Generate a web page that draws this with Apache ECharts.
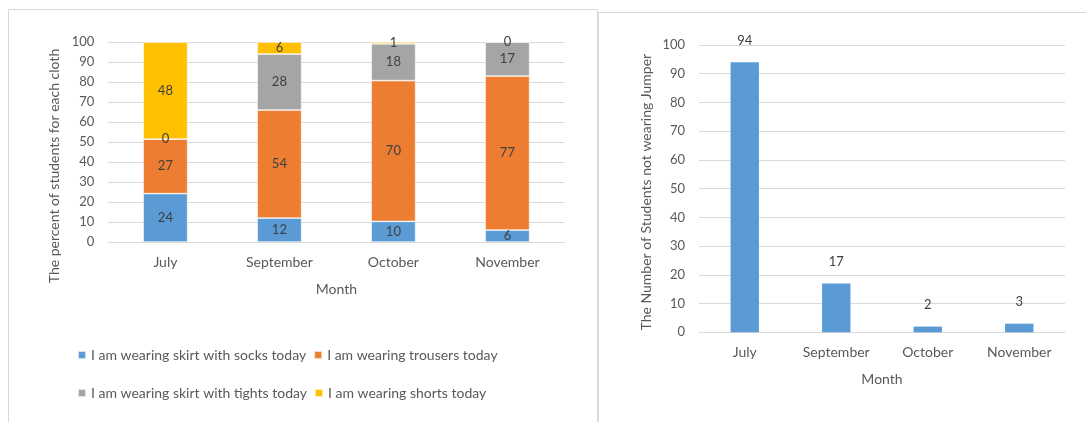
<!DOCTYPE html>
<html>
<head>
<meta charset="utf-8">
<script src="https://cdn.jsdelivr.net/npm/echarts@6/dist/echarts.min.js"></script>
<style>
html,body{margin:0;padding:0;background:#fff;}
#c{width:1086px;height:422px;}
</style>
</head>
<body>
<div id="c"></div>
<script>
const months = ['July', 'September', 'October', 'November'];
const seriesNames = [
  'I am wearing skirt with socks today',
  'I am wearing trousers today',
  'I am wearing skirt with tights today',
  'I am wearing shorts today'
];
const socks = [24.2, 12, 10.3, 6];
const trousers = [27.3, 54, 70.4, 77];
const tights = [0, 28, 18.4, 17];
const shorts = [48.4, 6, 0.9, 0];
const jumper = [94, 17, 2, 3];
const yTicks = [0, 10, 20, 30, 40, 50, 60, 70, 80, 90, 100];

const FONT = 'Lato';
const colors = ['#5b9bd5', '#ed7d31', '#a5a5a5', '#ffc000'];
const tickText = { color: '#595959', fontSize: 13, fontFamily: FONT };
const wordText = { color: '#595959', fontSize: 14, fontFamily: FONT };

function stackSeries(name, data, color) {
  return {
    name: name, type: 'bar', stack: 'cloth', xAxisIndex: 0, yAxisIndex: 0,
    data: data, barWidth: '39%',
    itemStyle: { color: color, borderColor: 'rgba(255,255,255,0.7)', borderWidth: 0.75 },
    label: { show: true, position: 'inside', color: '#404040', fontSize: 13, fontFamily: FONT,
      formatter: p => String(Math.round(p.value)) }
  };
}

const chart = echarts.init(document.getElementById('c'), null, { renderer: 'canvas' });
chart.setOption({
  animation: false,
  backgroundColor: '#fff',
  color: colors,
  graphic: [
    { type: 'rect', shape: { x: 8.5, y: 9.5, width: 589, height: 430 }, style: { fill: 'none', stroke: '#d9d9d9', lineWidth: 1 }, silent: true },
    { type: 'rect', shape: { x: 598.5, y: 12.5, width: 520, height: 430 }, style: { fill: 'none', stroke: '#d9d9d9', lineWidth: 1 }, silent: true }
  ],
  legend: [
    { data: [seriesNames[0], seriesNames[1]], left: 72, top: 343, itemWidth: 8, itemHeight: 8, itemGap: 7,
      icon: 'rect', textStyle: wordText },
    { data: [seriesNames[2], seriesNames[3]], left: 72, top: 381, itemWidth: 8, itemHeight: 8, itemGap: 7,
      icon: 'rect', textStyle: wordText }
  ],
  grid: [
    { left: 108.4, top: 42, width: 456, height: 200 },
    { left: 699, top: 45, width: 366, height: 287.3 }
  ],
  xAxis: [
    { gridIndex: 0, type: 'category', data: months, name: 'Month', nameLocation: 'middle', nameGap: 40,
      nameTextStyle: wordText, axisLabel: Object.assign({ margin: 13 }, wordText),
      axisTick: { show: false }, axisLine: { lineStyle: { color: '#d9d9d9' } } },
    { gridIndex: 1, type: 'category', data: months, name: 'Month', nameLocation: 'middle', nameGap: 40,
      nameTextStyle: wordText, axisLabel: Object.assign({ margin: 13 }, wordText),
      axisTick: { show: false }, axisLine: { lineStyle: { color: '#d9d9d9' } } }
  ],
  yAxis: [
    { gridIndex: 0, type: 'value', min: yTicks[0], max: yTicks[yTicks.length - 1], interval: 10,
      name: 'The percent of students for each cloth', nameLocation: 'middle', nameGap: 47,
      nameTextStyle: Object.assign({ padding: [0, 48, 0, 0] }, wordText),
      axisLabel: Object.assign({ margin: 14 }, tickText),
      axisLine: { show: false }, axisTick: { show: false },
      splitLine: { lineStyle: { color: '#d9d9d9', width: 1 } } },
    { gridIndex: 1, type: 'value', min: yTicks[0], max: yTicks[yTicks.length - 1], interval: 10,
      name: 'The Number of Students not wearing Jumper', nameLocation: 'middle', nameGap: 46,
      nameTextStyle: Object.assign({ padding: [0, 7, 0, 0] }, wordText),
      axisLabel: Object.assign({ margin: 14 }, tickText),
      axisLine: { show: false }, axisTick: { show: false },
      splitLine: { lineStyle: { color: '#d9d9d9', width: 1 } } }
  ],
  series: [
    stackSeries(seriesNames[0], socks, colors[0]),
    stackSeries(seriesNames[1], trousers, colors[1]),
    stackSeries(seriesNames[2], tights, colors[2]),
    stackSeries(seriesNames[3], shorts, colors[3]),
    { name: 'Jumper', type: 'bar', xAxisIndex: 1, yAxisIndex: 1, data: jumper, barWidth: '31%',
      itemStyle: { color: '#5b9bd5' },
      label: { show: true, position: 'top', distance: 15, color: '#404040', fontSize: 13, fontFamily: FONT } }
  ]
});
</script>
</body>
</html>
